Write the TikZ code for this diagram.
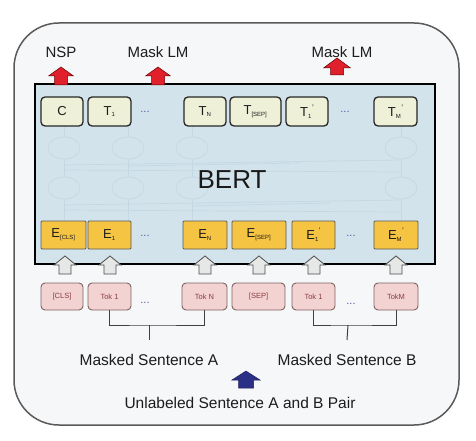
\documentclass[tikz,border=0pt]{standalone}
\usepackage{fontspec}
\setmainfont{Liberation Sans}
\definecolor{outerfill}{HTML}{F6F7F8}
\definecolor{outerdraw}{HTML}{5A5A5A}
\definecolor{bertfill}{HTML}{D3E3EC}
\definecolor{netcol}{HTML}{C4D7E3}
\definecolor{tfill}{HTML}{EEF0D8}
\definecolor{efill}{HTML}{F6C443}
\definecolor{tokfill}{HTML}{F3D2D2}
\definecolor{tokdraw}{HTML}{7E6262}
\definecolor{toktext}{HTML}{8A3F3F}
\definecolor{redarrow}{HTML}{E0202A}
\definecolor{bluearrow}{HTML}{2B2F86}
\definecolor{grayarrow}{HTML}{E6E8E8}
\definecolor{labtext}{HTML}{1C1C1C}
\newcommand\lab[2]{#1$_{\hbox{\fontsize{6}{6}\selectfont #2}}$}
\newcommand\labp[3]{#1$_{\hbox{\fontsize{6}{6}\selectfont #2}}$\raisebox{0.9ex}{\fontsize{8}{8}\selectfont #3}}
\newcommand\blockup[7]{\draw[#1] (#2,#3) -- ({#2+#5/2},{#3+#7}) -- ({#2+#6/2},{#3+#7}) -- ({#2+#6/2},#4) -- ({#2-#6/2},#4) -- ({#2-#6/2},{#3+#7}) -- ({#2-#5/2},{#3+#7}) -- cycle;}
\tikzset{
  tbox/.style={draw=black!85, line width=1.3pt, fill=tfill, rounded corners=4pt, minimum height=29pt, inner sep=0pt, text=labtext, font=\fontsize{13}{13}\selectfont},
  ebox/.style={draw=black!65, line width=0.8pt, fill=efill, rounded corners=1pt, minimum height=28pt, inner sep=0pt, text=labtext, font=\fontsize{13}{13}\selectfont},
  tokbox/.style={draw=tokdraw, line width=0.9pt, fill=tokfill, rounded corners=4pt, minimum height=27pt, inner sep=0pt, text=toktext, font=\fontsize{7.5}{7.5}\selectfont},
  lbl/.style={text=labtext, font=\fontsize{15.5}{15.5}\selectfont, inner sep=0pt},
  toplbl/.style={text=labtext, font=\fontsize{15}{15}\selectfont, inner sep=0pt},
  dots/.style={text=gray!70!blue, font=\fontsize{11}{11}\selectfont, inner sep=0pt},
  net/.style={draw=netcol, line width=0.7pt},
  redarr/.style={fill=redarrow, draw=red!40!black, line width=0.5pt},
  grayarr/.style={fill=grayarrow, draw=black!70, line width=0.8pt},
  bluearr/.style={fill=bluearrow, draw=bluearrow!70!black, line width=0.5pt},
  brk/.style={draw=black!75, line width=1pt}
}
\begin{document}
\begin{tikzpicture}[x=1pt,y=-1pt]
\useasboundingbox (0,0) rectangle (476,441);
\fill[white] (0,0) rectangle (476,441);
% outer frame
\draw[outerdraw, fill=outerfill, line width=1.5pt, rounded corners=45pt] (14,23) rectangle (459,425);
% BERT box
\node[draw=black, line width=2pt, fill=bertfill, minimum width=400pt, minimum height=180pt, inner sep=0pt] (bert) at (235,174) {};
% faint network
\foreach \cx in {64,128,192,401}{
  \draw[net] (\cx,148) ellipse (16 and 11);
  \draw[net] (\cx,188) ellipse (16 and 11);
  \draw[net] (\cx,126) -- (\cx,137);
  \draw[net] (\cx,159) -- (\cx,177);
  \draw[net] (\cx,199) -- (\cx,221);
}
\draw[net] (64,165) -- (401,160);
\draw[net] (64,170) -- (401,172);
\draw[net] (128,166) -- (300,163);
\draw[net] (64,205) -- (401,200);
\draw[net] (64,210) -- (401,212);
\draw[net] (192,206) -- (330,203);
\node[text=black!90, font=\fontsize{26}{26}\selectfont, inner sep=0pt] (berttext) at (232,180) {BERT};
% top output tokens
\node[tbox, minimum width=42pt] (c) at (62,111.5) {C};
\node[tbox, minimum width=43pt] (t1) at (109.5,111.5) {\lab{T}{1}};
\node[dots] (d1) at (145,112) {...};
\node[tbox, minimum width=42pt] (tn) at (205,111.5) {\lab{T}{N}};
\node[tbox, minimum width=51pt] (tsep) at (255.5,111.5) {\lab{T}{[SEP]}};
\node[tbox, minimum width=42pt] (t1p) at (307,111.5) {\labp{T}{1}{'}};
\node[dots] (d2) at (345,112) {...};
\node[tbox, minimum width=43pt] (tmp) at (395.5,111.5) {\labp{T}{M}{'}};
% embeddings
\node[ebox, minimum width=45pt] (ecls) at (63.5,235) {\lab{E}{[CLS]}};
\node[ebox, minimum width=43pt] (e1) at (109.5,235) {\lab{E}{1}};
\node[dots] (d3) at (145,236) {...};
\node[ebox, minimum width=44pt] (en) at (205,235) {\lab{E}{N}};
\node[ebox, minimum width=54pt] (esep) at (259,235) {\lab{E}{[SEP]}};
\node[ebox, minimum width=43pt] (e1p) at (313.5,235) {\labp{E}{1}{'}};
\node[dots] (d4) at (351,236) {...};
\node[ebox, minimum width=44pt] (emp) at (396,235) {\labp{E}{M}{'}};
% input tokens
\node[tokbox, minimum width=42pt] (kcls) at (62,296.5) {[CLS]};
\node[tokbox, minimum width=43pt] (k1) at (109.5,296.5) {Tok 1};
\node[dots] (d5) at (145,303) {...};
\node[tokbox, minimum width=45pt] (kn) at (204.5,296.5) {Tok N};
\node[tokbox, minimum width=53pt] (ksep) at (258.5,296.5) {[SEP]};
\node[tokbox, minimum width=43pt] (k1p) at (313.5,296.5) {Tok 1};
\node[dots] (d6) at (351,304) {...};
\node[tokbox, minimum width=44pt] (kmp) at (396,296.5) {TokM};
% gray arrows
\foreach \ax in {65,110,205,259,314,396}{
  \blockup{grayarr}{\ax}{256}{274}{22}{12}{9}
}
% brackets
\coordinate (ba) at (149,325);
\coordinate (bb) at (348,325);
\draw[brk] (k1.south) |- (ba) -| (kn.south);
\draw[brk] (k1p.south) |- (bb) -| (kmp.south);
\node[lbl] (msa) at (149,360) {Masked Sentence A};
\node[lbl] (msb) at (347,360) {Masked Sentence B};
\draw[brk] (ba) -- (msa.north |- 0,340);
\draw[brk] (bb) -- (msb.north |- 0,340);
% bottom input label
\blockup{bluearr}{246}{371}{388}{28}{15}{9}
\node[lbl] (pair) at (240,403) {Unlabeled Sentence A and B Pair};
% top outputs
\node[toplbl] (nsp) at (61,52) {NSP};
\node[toplbl] (mlm1) at (158,52) {Mask LM};
\node[toplbl] (mlm2) at (342,52) {Mask LM};
\blockup{redarr}{61}{67}{85}{25}{13}{9}
\blockup{redarr}{158}{67}{85}{25}{13}{9}
\blockup{redarr}{337}{58}{75}{27}{13}{10}
\end{tikzpicture}
\end{document}
